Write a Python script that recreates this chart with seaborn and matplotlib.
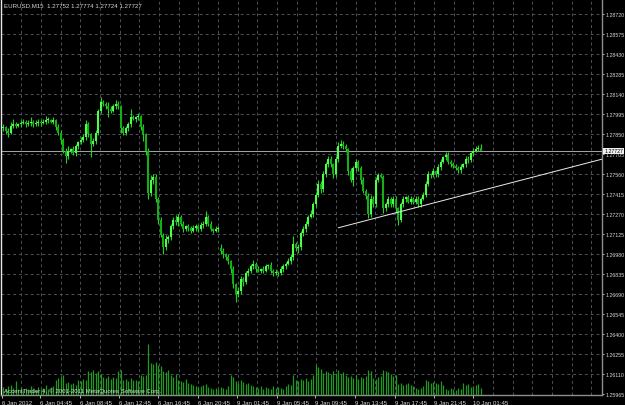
import numpy as np
import matplotlib
matplotlib.use("Agg")
import matplotlib.pyplot as plt
import matplotlib.transforms as mtransforms
import seaborn as sns

# ---------------- data ----------------
symbol_title = "EURUSD,M15  1.27752 1.27774 1.27724 1.27727"
copyright_text = "AccentTrader 4, \u00a9 2001-2011 MetaQuotes Software Corp."

close = [
    1.2790, 1.2787, 1.2786, 1.2791, 1.2792, 1.2791, 1.2792, 1.2793, 1.2794, 1.2792,
    1.2793, 1.2794, 1.2792, 1.2793, 1.2794, 1.2793, 1.2794, 1.2795, 1.2795, 1.2794,
    1.2795, 1.2790, 1.2786, 1.2781, 1.2773, 1.2769, 1.2773, 1.2774, 1.2771, 1.2776,
    1.2779, 1.2781, 1.2783, 1.2792, 1.2785, 1.2778, 1.2780, 1.2786, 1.2802, 1.2808,
    1.2807, 1.2805, 1.2803, 1.2802, 1.2805, 1.2807, 1.2805, 1.2789, 1.2786, 1.2789,
    1.2792, 1.2797, 1.2796, 1.2797, 1.2798, 1.2790, 1.2785, 1.2773, 1.2742, 1.2752,
    1.2754, 1.2738, 1.2723, 1.2712, 1.2703, 1.2709, 1.2710, 1.2718, 1.2723, 1.2721,
    1.2725, 1.2720, 1.2716, 1.2718, 1.2717, 1.2715, 1.2717, 1.2718, 1.2716, 1.2719,
    1.2720, 1.2725, 1.2720, 1.2716, 1.2715, 1.2716, 1.2717, 1.2700, 1.2698, 1.2696,
    1.2693, 1.2687, 1.2676, 1.2669, 1.2671, 1.2680, 1.2678, 1.2684, 1.2686, 1.2689,
    1.2691, 1.2687, 1.2686, 1.2687, 1.2686, 1.2689, 1.2690, 1.2686, 1.2684, 1.2685,
    1.2684, 1.2687, 1.2689, 1.2691, 1.2693, 1.2696, 1.2705, 1.2702, 1.2703, 1.2713,
    1.2716, 1.2720, 1.2725, 1.2727, 1.2734, 1.2741, 1.2749, 1.2745, 1.2756, 1.2763,
    1.2767, 1.2763, 1.2756, 1.2767, 1.2776, 1.2778, 1.2776, 1.2774, 1.2758, 1.2752,
    1.2760, 1.2765, 1.2760, 1.2752, 1.2744, 1.2740, 1.2727, 1.2738, 1.2734, 1.2752,
    1.2755, 1.2754, 1.2731, 1.2734, 1.2738, 1.2734, 1.2738, 1.2731, 1.2723, 1.2734,
    1.2738, 1.2739, 1.2736, 1.2738, 1.2736, 1.2738, 1.2734, 1.2738, 1.2741, 1.2749,
    1.2756, 1.2755, 1.2758, 1.2756, 1.2761, 1.2765, 1.2768, 1.2770, 1.2765, 1.2763,
    1.2762, 1.2760, 1.2759, 1.2761, 1.2763, 1.2767, 1.2766, 1.2771, 1.2773, 1.2774,
    1.27752, 1.27727,
]

open_ = [
    1.2789, 1.2790, 1.2787, 1.2786, 1.2791, 1.2792, 1.2791, 1.2792, 1.2793, 1.2794,
    1.2792, 1.2793, 1.2794, 1.2792, 1.2793, 1.2794, 1.2793, 1.2794, 1.2795, 1.2795,
    1.2794, 1.2795, 1.2790, 1.2786, 1.2781, 1.2773, 1.2769, 1.2773, 1.2774, 1.2771,
    1.2776, 1.2779, 1.2781, 1.2783, 1.2792, 1.2785, 1.2778, 1.2780, 1.2786, 1.2802,
    1.2808, 1.2807, 1.2805, 1.2803, 1.2802, 1.2805, 1.2807, 1.2805, 1.2789, 1.2786,
    1.2789, 1.2792, 1.2797, 1.2796, 1.2797, 1.2798, 1.2790, 1.2785, 1.2773, 1.2742,
    1.2752, 1.2754, 1.2738, 1.2723, 1.2712, 1.2703, 1.2709, 1.2710, 1.2718, 1.2723,
    1.2721, 1.2725, 1.2720, 1.2716, 1.2718, 1.2717, 1.2715, 1.2717, 1.2718, 1.2716,
    1.2719, 1.2720, 1.2725, 1.2720, 1.2716, 1.2715, 1.2716, 1.2702, 1.2700, 1.2698,
    1.2696, 1.2693, 1.2687, 1.2676, 1.2669, 1.2671, 1.2680, 1.2678, 1.2684, 1.2686,
    1.2689, 1.2691, 1.2687, 1.2686, 1.2687, 1.2686, 1.2689, 1.2690, 1.2686, 1.2684,
    1.2685, 1.2684, 1.2687, 1.2689, 1.2691, 1.2693, 1.2696, 1.2705, 1.2702, 1.2703,
    1.2713, 1.2716, 1.2720, 1.2725, 1.2727, 1.2734, 1.2741, 1.2749, 1.2745, 1.2756,
    1.2763, 1.2767, 1.2763, 1.2756, 1.2767, 1.2776, 1.2778, 1.2776, 1.2774, 1.2758,
    1.2752, 1.2760, 1.2765, 1.2760, 1.2752, 1.2744, 1.2740, 1.2727, 1.2738, 1.2734,
    1.2752, 1.2755, 1.2754, 1.2731, 1.2734, 1.2738, 1.2734, 1.2738, 1.2731, 1.2723,
    1.2734, 1.2738, 1.2739, 1.2736, 1.2738, 1.2736, 1.2738, 1.2734, 1.2738, 1.2741,
    1.2749, 1.2756, 1.2755, 1.2758, 1.2756, 1.2761, 1.2765, 1.2768, 1.2770, 1.2765,
    1.2763, 1.2762, 1.2760, 1.2759, 1.2761, 1.2763, 1.2767, 1.2766, 1.2771, 1.2773,
    1.2774, 1.27752,
]

# wick lengths beyond the body, in pips (0.0001)
upper_wick_pips = [
    2, 1, 2, 3, 4, 2, 1, 2, 2, 1,
    2, 3, 1, 2, 2, 1, 2, 3, 2, 1,
    2, 1, 2, 2, 1, 2, 3, 1, 2, 2,
    1, 2, 2, 3, 2, 1, 2, 2, 1, 4,
    2, 1, 3, 2, 2, 3, 2, 1, 2, 2,
    2, 6, 2, 1, 2, 1, 2, 1, 2, 3,
    2, 2, 1, 2, 1, 3, 2, 2, 2, 3,
    2, 1, 2, 1, 2, 1, 2, 2, 1, 2,
    2, 4, 1, 2, 1, 2, 1, 3, 2, 1,
    2, 1, 2, 1, 3, 2, 1, 2, 2, 2,
    3, 1, 2, 1, 2, 2, 1, 2, 1, 2,
    1, 2, 2, 1, 2, 2, 6, 2, 2, 2,
    2, 2, 1, 3, 2, 2, 3, 2, 2, 2,
    2, 2, 1, 2, 3, 3, 2, 2, 1, 2,
    2, 2, 1, 2, 2, 1, 2, 3, 2, 2,
    2, 2, 1, 2, 2, 1, 2, 2, 1, 2,
    2, 1, 2, 2, 1, 2, 2, 1, 2, 2,
    2, 1, 2, 1, 2, 2, 1, 2, 2, 1,
    2, 1, 2, 2, 1, 2, 2, 1, 2, 2,
    2, 2.2,
]
lower_wick_pips = [
    2, 2, 3, 1, 2, 2, 1, 2, 1, 2,
    1, 2, 2, 1, 2, 2, 1, 2, 2, 1,
    2, 2, 2, 3, 2, 5, 2, 2, 1, 2,
    2, 1, 2, 2, 2, 10, 2, 2, 2, 2,
    2, 2, 6, 2, 1, 2, 2, 3, 2, 2,
    2, 2, 1, 2, 2, 2, 5, 3, 4, 2,
    3, 2, 3, 2, 5, 2, 3, 2, 2, 2,
    3, 2, 2, 1, 2, 2, 1, 2, 2, 1,
    2, 2, 2, 1, 2, 1, 2, 2, 3, 2,
    2, 3, 3, 6, 2, 2, 3, 2, 2, 2,
    2, 2, 1, 2, 2, 1, 2, 2, 2, 1,
    2, 1, 2, 2, 1, 2, 2, 2, 3, 2,
    2, 2, 2, 1, 2, 2, 2, 3, 2, 2,
    2, 2, 3, 2, 2, 1, 2, 2, 3, 2,
    5, 2, 2, 3, 2, 2, 3, 2, 2, 2,
    2, 1, 3, 2, 2, 2, 2, 3, 4, 2,
    2, 2, 1, 2, 2, 2, 2, 2, 1, 2,
    2, 2, 1, 2, 2, 2, 1, 2, 2, 2,
    2, 1, 2, 2, 1, 2, 2, 1, 2, 1,
    1, 0.3,
]

# tick volume
volume = [
    80, 60, 90, 100, 70, 140, 60, 80, 50, 70,
    60, 90, 70, 50, 80, 60, 70, 100, 60, 80,
    90, 150, 170, 180, 200, 120, 130, 110, 120, 100,
    150, 140, 160, 150, 240, 230, 250, 220, 240, 210,
    180, 170, 190, 160, 180, 170, 240, 250, 150, 160,
    140, 170, 150, 150, 140, 200, 190, 200, 510, 320,
    310, 330, 300, 290, 240, 230, 250, 200, 180, 210,
    150, 140, 130, 160, 120, 110, 100, 90, 80, 90,
    100, 110, 80, 70, 60, 70, 60, 80, 70, 60,
    90, 200, 180, 140, 120, 150, 130, 110, 120, 100,
    90, 80, 70, 90, 60, 80, 70, 60, 90, 70,
    80, 70, 60, 90, 110, 100, 200, 150, 140, 160,
    150, 170, 140, 160, 200, 300, 280, 260, 220, 240,
    230, 210, 240, 220, 250, 210, 230, 200, 180, 190,
    170, 200, 160, 180, 170, 190, 250, 240, 170, 160,
    180, 190, 250, 240, 230, 210, 190, 200, 110, 120,
    100, 110, 120, 100, 90, 70, 60, 70, 90, 150,
    140, 120, 130, 120, 110, 140, 100, 60, 50, 70,
    60, 50, 70, 60, 120, 100, 110, 80, 90, 100,
    110, 70,
]

price_ticks = [1.25965, 1.26110, 1.26255, 1.26400, 1.26545, 1.26690, 1.26835,
               1.26980, 1.27125, 1.27270, 1.27415, 1.27560, 1.27705, 1.27850,
               1.27995, 1.28140, 1.28285, 1.28430, 1.28575, 1.28720]
time_labels = ["6 Jan 2012", "6 Jan 04:45", "6 Jan 08:45", "6 Jan 12:45",
               "6 Jan 16:45", "6 Jan 20:45", "9 Jan 01:45", "9 Jan 05:45",
               "9 Jan 09:45", "9 Jan 13:45", "9 Jan 17:45", "9 Jan 21:45",
               "10 Jan 01:45"]
trend_bar = [134, 240]
trend_price = [1.2717, 1.2767]
bid_price = 1.27727

assert len(close) == len(open_) == len(upper_wick_pips) == len(lower_wick_pips) == len(volume)

# ---------------- layout / style ----------------
W, H = 625, 406
X0, SP = 3.25, 2.5          # pixel of bar 0, pixels per bar
def px2bar(px):
    return (px - X0) / SP

label_px = [2, 40, 80, 119, 158, 198, 237, 277, 315, 355, 395, 434, 473]
grid_px = [1.8 + 19.65 * k for k in range(1, 31)]

sns.set_theme(style="dark", rc={"axes.facecolor": "#000000",
                                "figure.facecolor": "#000000",
                                "axes.grid": False})
plt.rcParams["font.family"] = ["Liberation Sans", "DejaVu Sans"]

TXT = "#d8d8d8"
GRID = "#4c5259"
FS = 4.4
FS_Y = 3.75

fig = plt.figure(figsize=(W / 100, H / 100), dpi=100)
left, top, right, bottom = 1.5, 0, 602, 396
ax = fig.add_axes([left / W, 1 - bottom / H, (right - left) / W, (bottom - top) / H])
ax.set_facecolor("#000000")
ax.set_xlim(px2bar(left), px2bar(right))
ax.set_ylim(1.2595775, 1.2882875)

# grid
for gp in grid_px:
    ax.axvline(px2bar(gp), color=GRID, lw=0.7, ls=(0, (3, 3)), zorder=1)
for p in price_ticks[1:]:
    ax.axhline(p, color=GRID, lw=0.7, ls=(0, (3, 3)), zorder=1)

# volume (twin axis at bottom)
n = len(close)
xb = np.arange(n)
ax2 = ax.twinx()
ax2.set_ylim(0, 3960)
ax2.vlines(xb, 0, volume, color="#1f9a1f", lw=0.9, zorder=2)
ax2.set_axis_off()
ax2.set_xlim(ax.get_xlim())

# candles
o = np.array(open_)
c = np.array(close)
hi = np.maximum(o, c) + np.array(upper_wick_pips) * 1e-4
lo = np.minimum(o, c) - np.array(lower_wick_pips) * 1e-4
ax.vlines(xb, lo, hi, color="#22d422", lw=0.8, zorder=3)
bull = c >= o
body_h = np.maximum(np.abs(c - o), 0.00006)
ax.bar(xb, body_h, bottom=np.minimum(o, c), width=0.85,
       color=np.where(bull, "#4cff4c", "#12b012"), linewidth=0, zorder=4)

# bid line & trend line
ax.axhline(bid_price, color="#a0a0a0", lw=0.75, zorder=2)
sns.lineplot(x=trend_bar, y=trend_price, ax=ax, color="#ececec", lw=0.7, zorder=5)

# axes & ticks
ax.yaxis.tick_right()
ax.set_yticks(price_ticks)
ax.set_yticklabels([f"{p:.5f}" for p in price_ticks])
ax.set_xticks([px2bar(p) for p in label_px])
ax.set_xticklabels(time_labels)
for lbl in ax.get_xticklabels():
    lbl.set_ha("left")
ax.tick_params(axis="y", length=1.6, width=0.6, colors=TXT, labelsize=FS_Y, pad=0.6,
               left=False, right=True)
ax.tick_params(axis="x", length=2.5, width=0.6, colors=TXT, labelsize=FS, pad=0.8,
               bottom=True)
ax.set_xlabel("")
ax.set_ylabel("")
ax.spines["top"].set_visible(False)
ax.spines["left"].set_color("#e8e8e8")
ax.spines["left"].set_linewidth(1.0)
for s in ("right", "bottom"):
    ax.spines[s].set_color("#8e8e8e")
    ax.spines[s].set_linewidth(1.0)

# current price label box
trans = mtransforms.blended_transform_factory(ax.transAxes, ax.transData)
ax.text(1.0 + 2.2 / (right - left), bid_price, f"{bid_price:.5f}", transform=trans,
        ha="left", va="center", fontsize=FS_Y, color="#000000", zorder=20,
        clip_on=False,
        bbox=dict(boxstyle="square,pad=0.15", fc="#f0f0f0", ec="none"))

# texts
fig.text(4 / W, 1 - 6 / H, symbol_title, ha="left", va="center",
         fontsize=FS, color=TXT)
fig.text(4 / W, 1 - 391 / H, copyright_text, ha="left", va="center",
         fontsize=FS, color=TXT)

fig.savefig("out.png", dpi=100, facecolor="#000000")
